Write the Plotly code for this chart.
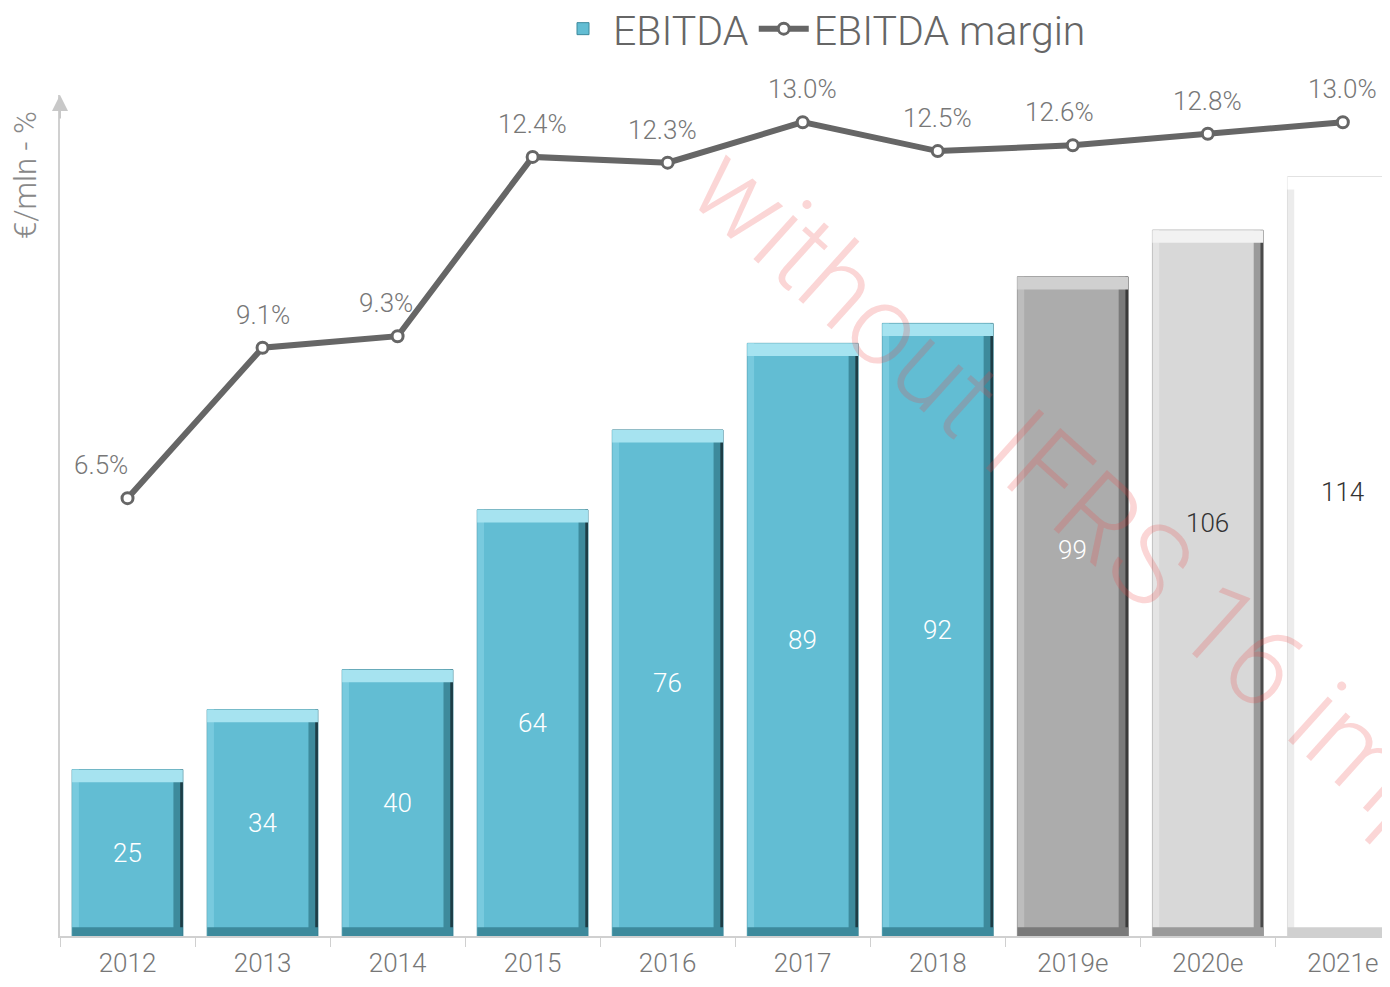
import plotly.graph_objects as go

# ---------------- data ----------------
categories = ["2012", "2013", "2014", "2015", "2016", "2017", "2018", "2019e", "2020e", "2021e"]
ebitda = [25, 34, 40, 64, 76, 89, 92, 99, 106, 114]
ebitda_margin = [6.5, 9.1, 9.3, 12.4, 12.3, 13.0, 12.5, 12.6, 12.8, 13.0]
margin_labels = ["6.5%", "9.1%", "9.3%", "12.4%", "12.3%", "13.0%", "12.5%", "12.6%", "12.8%", "13.0%"]
axis_title = "€/mln - %"
watermark = "without IFRS 16 impact"

# ---------------- styles ----------------
FONT = "Roboto"
OFF = 8                      # page body margin of the browser
W, H = 1390 - 2 * OFF, 987 - 2 * OFF
ML, MR, MT = 60 - OFF, 0, 95 - OFF
MB = H - (936 - OFF)
PW, PH = W - ML - MR, H - MT - MB
is_est = [c.endswith("e") for c in categories]
idx = list(range(len(categories)))

main_col = ["#62bdd3"] * 7 + ["#acacac", "#d8d8d8", "#ffffff"]
top_col = ["#a6e3f0"] * 7 + ["#d0d0d0", "#f2f2f2", "#ffffff"]
left_col = ["#78cade"] * 7 + ["#bdbdbd", "#e4e4e4", "#ececec"]
shade_col = ["#3d8a9c"] * 7 + ["#7a7a7a", "#9a9a9a", "#d0d0d0"]
edge_col = ["#1e3d46"] * 7 + ["#3a3a3a", "#4a4a4a", "#b0b0b0"]
label_col = ["#ffffff"] * 8 + ["#333333", "#333333"]
label_xshift = [-27, 0, -12, 0, -5, 0, 0, -13, 0, 0]

BW = 0.82
HW = BW / 2
TOP_H = 1.9
BOT_H = 1.3

fig = go.Figure()

fig.add_trace(go.Bar(
    x=categories, y=ebitda, width=BW, name="EBITDA",
    marker=dict(color=main_col, line=dict(width=1, color=shade_col)),
    showlegend=True, hoverinfo="x+y",
))
fig.add_trace(go.Bar(
    x=categories, y=ebitda, width=0.05, offset=-HW,
    marker=dict(color=left_col, line=dict(width=0)), showlegend=False, hoverinfo="skip",
))
fig.add_trace(go.Bar(
    x=categories, y=ebitda, width=0.07, offset=HW - 0.07,
    marker=dict(color=shade_col, line=dict(width=0)), showlegend=False, hoverinfo="skip",
))
fig.add_trace(go.Bar(
    x=categories, y=ebitda, width=0.02, offset=HW - 0.02,
    marker=dict(color=edge_col, line=dict(width=0)), showlegend=False, hoverinfo="skip",
))
fig.add_trace(go.Bar(
    x=categories, y=[BOT_H] * len(ebitda), base=[0] * len(ebitda), width=BW,
    marker=dict(color=shade_col, line=dict(width=0)), showlegend=False, hoverinfo="skip",
))
fig.add_trace(go.Bar(
    x=categories, y=[TOP_H] * len(ebitda), base=[v - TOP_H for v in ebitda], width=BW,
    marker=dict(color=top_col, line=dict(width=0)), showlegend=False, hoverinfo="skip",
))

fig.add_trace(go.Scatter(
    x=categories, y=ebitda_margin, yaxis="y2", name="EBITDA margin",
    mode="lines+markers",
    line=dict(color="#666666", width=6),
    marker=dict(size=11, color="#ffffff", line=dict(color="#666666", width=3)),
    cliponaxis=False,
))

annotations = []
for i, v in zip(idx, ebitda):
    annotations.append(dict(
        x=i, y=v * (0.585 if is_est[i] else 0.5), xref="x", yref="y",
        text=str(v), showarrow=False,
        font=dict(family=FONT, size=26, color=label_col[i], weight=300),
    ))
for i, m in zip(idx, ebitda_margin):
    annotations.append(dict(
        x=i, y=m, xref="x", yref="y2", text=margin_labels[i], showarrow=False,
        yshift=33, xshift=label_xshift[i],
        font=dict(family=FONT, size=26, color="#777777", weight=300),
    ))
annotations.append(dict(
    x=(25 - 60) / PW, y=(936 - 175) / PH, xref="paper", yref="paper",
    text=axis_title, textangle=-90, showarrow=False, xanchor="center", yanchor="middle",
    font=dict(family=FONT, size=31, color="#888888", weight=300),
))
annotations.append(dict(
    x=0, y=1, xref="paper", yref="paper", text="", showarrow=True,
    ax=0, ay=25, arrowhead=2, arrowsize=1.6, arrowwidth=2, arrowcolor="#c8c8c8",
))
annotations.append(dict(
    x=(1135 - 60) / PW, y=(936 - 550) / PH, xref="paper", yref="paper",
    text=watermark, textangle=42, showarrow=False, xanchor="center", yanchor="middle",
    font=dict(family=FONT, size=112, color="rgba(235,70,70,0.22)", weight=300),
))

fig.update_layout(
    width=W, height=H,
    margin=dict(l=ML, r=MR, t=MT, b=MB, autoexpand=False),
    paper_bgcolor="white", plot_bgcolor="white",
    barmode="overlay",
    font=dict(family=FONT, color="#666666"),
    xaxis=dict(
        type="category", range=[-0.5, 9.29],
        showline=True, linecolor="#d0d0d0", linewidth=2,
        ticks="outside", tickson="boundaries", ticklen=9, tickcolor="#d0d0d0", tickwidth=1,
        tickfont=dict(family=FONT, size=26, color="#777777", weight=300),
        ticklabelstandoff=3,
        showgrid=False, zeroline=False, fixedrange=True, automargin=False,
    ),
    yaxis=dict(
        range=[0, 126.3], showline=True, linecolor="#d0d0d0", linewidth=2,
        showticklabels=False, ticks="", showgrid=False, zeroline=False,
    ),
    yaxis2=dict(
        range=[-1.07, 13.47], overlaying="y", side="right", visible=False,
        showgrid=False, zeroline=False,
    ),
    legend=dict(
        orientation="h", xref="container", yref="container",
        x=(822 - OFF) / W, xanchor="center", y=1 - (29 - OFF) / H, yanchor="middle",
        font=dict(family=FONT, size=41, color="#666666", weight=300),
        itemwidth=50, bgcolor="rgba(0,0,0,0)",
    ),
    annotations=annotations,
)

fig.write_html("out.html")
